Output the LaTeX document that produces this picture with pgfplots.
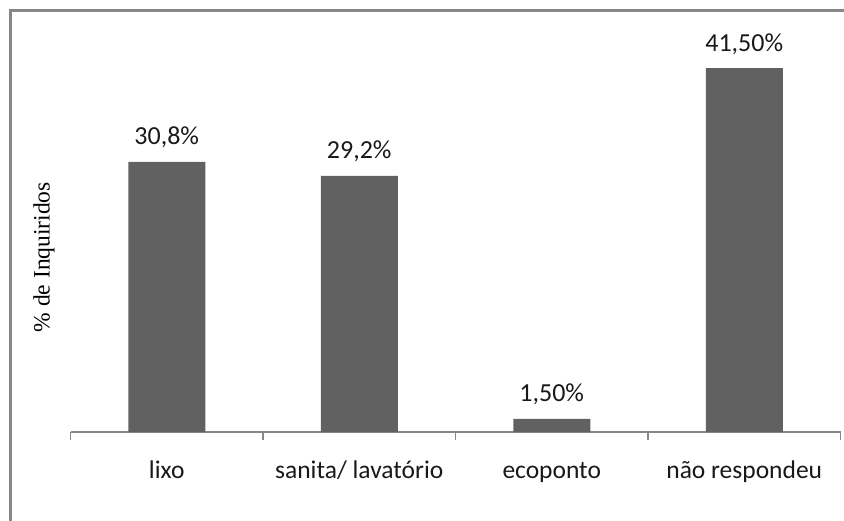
\documentclass[border=0pt]{standalone}
\usepackage{fontspec}
\setmainfont{Carlito}
\newfontfamily\serifface{Liberation Serif}
\usepackage{pgfplots}
\pgfplotsset{compat=1.18}
\definecolor{barfill}{HTML}{616161}
\definecolor{linegray}{HTML}{878787}
\begin{document}
\begin{tikzpicture}
\useasboundingbox (0pt,0pt) rectangle (844pt,-520pt);
% outer chart frame (open at right and bottom)
\draw[linegray, line width=3pt] (10.5pt,-521pt) -- (10.5pt,-10.5pt) -- (845pt,-10.5pt);
\begin{axis}[
  at={(70.5pt,-432pt)}, anchor=south west,
  scale only axis, width=770pt, height=394.7pt,
  xmin=-0.5, xmax=3.5, ymin=0, ymax=45,
  clip=false,
  axis x line*=bottom, axis y line*=left,
  y axis line style={draw=none},
  x axis line style={linegray, line width=2pt},
  ytick=\empty,
  xtick={0,1,2,3},
  xticklabels={lixo, sanita/ lavatório, ecoponto, não respondeu},
  minor xtick={-0.5,0.5,1.5,2.5,3.5},
  major tick length=0pt, minor tick length=8pt,
  tick align=outside,
  minor tick style={linegray, line width=1.5pt},
  major tick style={draw=none},
  xticklabel style={font=\fontsize{25.5}{30}\selectfont, anchor=base, yshift=-46pt, text=black!90},
  ylabel={\% de Inquiridos},
  ylabel style={font=\serifface\fontsize{23.5}{28}\selectfont, at={(axis description cs:-0.0344,0.443)}, anchor=center},
  ybar, bar width=0.4,
  nodes near coords,
  point meta=explicit symbolic,
  every node near coord/.append style={font=\fontsize{26}{30}\selectfont, anchor=base, yshift=17pt, text=black!90},
]
\addplot[fill=barfill, draw=none] coordinates {
  (0,30.8) [30,8\%]
  (1,29.2) [29,2\%]
  (2,1.5)  [1,50\%]
  (3,41.5) [41,50\%]
};
\end{axis}
\end{tikzpicture}
\end{document}
